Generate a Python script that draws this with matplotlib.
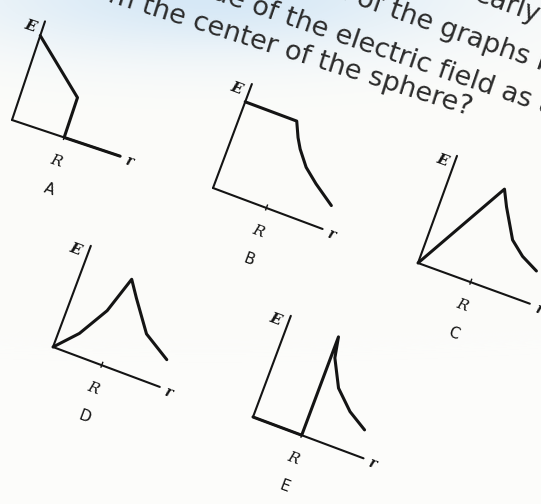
import numpy as np
import matplotlib
matplotlib.use("Agg")
import matplotlib.pyplot as plt
from matplotlib.transforms import Affine2D

W, H = 541, 504

# E(r) sketches, in graph units (r along the axis, E up from it)
names = ["A", "B", "C", "D", "E"]
r_A = [0, 55, 55, 114]
E_A = [89, 42, 0, 0]
r_B = [0, 55, 62, 68, 80, 95, 117]
E_B = [92, 92, 77, 67, 52, 40, 25]
r_C = [0, 56, 64, 81, 96, 114]
E_C = [0, 99, 83, 54, 42, 33]
r_D = [0, 20, 38, 50, 61, 83, 111]
E_D = [0, 22, 53, 91, 75, 45, 28]
r_E = [0, 52, 52, 56, 70, 89, 109]
E_E = [0, 0, 105, 84, 57, 39, 27]
curve_r = [r_A, r_B, r_C, r_D, r_E]
curve_E = [E_A, E_B, E_C, E_D, E_E]
R_mark = [55, 57, 56, 52, 52]
r_axis_len = [114, 117, 119, 114, 118]
E_axis_len = [104, 111, 114, 108, 108]

# page placement of each little graph: origin in pixels and tilt
origins = [(12, 120), (213, 188), (418, 263), (53, 347), (253, 417)]
tilts = [18.5, 20.5, 20.0, 20.5, 20.5]

# question text lines: (lead-in running off the top, rest, anchor x, anchor y, tilt)
text_lines = [
    ("increases lin", "early", 473, 0, 19.5),
    ("Which ", "of the graphs below best", 355, 4, 19.5),
    ("magnitude ", "of the electric field as a function", 250, 12, 19.0),
    ("fro", "m the center of the sphere?", 107, 1, 17.5),
]

fig = plt.figure(figsize=(W / 100, H / 100), dpi=100)
ax = fig.add_axes([0, 0, 1, 1])
ax.set_xlim(0, W)
ax.set_ylim(H, 0)
ax.axis("off")

# paper with a pale blue cast along the top edge
yy, xx = np.mgrid[0:H, 0:W]
tint = np.exp(-(((xx - 210) / 250.0) ** 2 + ((yy + 5) / 60.0) ** 2))
paper = np.array([252, 252, 250]) / 255.0
blue = np.array([214, 232, 246]) / 255.0
bg = paper[None, None, :] * (1 - tint[..., None]) + blue[None, None, :] * tint[..., None]
ax.imshow(bg, extent=(0, W, H, 0), zorder=0, aspect="auto")

ink = "#141414"
for lead, body, x, y, ang in text_lines:
    kw = dict(rotation=-ang, rotation_mode="anchor", va="baseline",
              fontsize=19.5, color="#2b2b2b", family="DejaVu Sans", zorder=3)
    ax.text(x, y, lead, ha="right", **kw)
    ax.text(x, y, body, ha="left", **kw)

for i, name in enumerate(names):
    ox, oy = origins[i]
    tilt = tilts[i]
    tr = Affine2D().scale(1, -1).rotate_deg(tilt).translate(ox, oy) + ax.transData
    # axes
    ax.plot([0, r_axis_len[i]], [0, 0], color=ink, lw=1.5, transform=tr,
            solid_capstyle="round", zorder=2)
    ax.plot([0, 0], [0, E_axis_len[i]], color=ink, lw=1.5, transform=tr,
            solid_capstyle="round", zorder=2)
    ax.plot([R_mark[i], R_mark[i]], [-2, 3], color=ink, lw=1.0, transform=tr, zorder=2)
    # field curve
    ax.plot(curve_r[i], curve_E[i], color=ink, lw=2.2, transform=tr,
            solid_joinstyle="round", solid_capstyle="round", zorder=3)
    # labels
    lab = dict(rotation=-tilt, rotation_mode="anchor", ha="center", va="center",
               color=ink, transform=tr, zorder=4)
    ax.text(-13, E_axis_len[i] - 9, "E", fontsize=11, family="DejaVu Serif",
            style="italic", weight="bold", **lab)
    ax.text(r_axis_len[i] + 10, -2, "r", fontsize=10, family="DejaVu Serif",
            style="italic", weight="bold", **lab)
    ax.text(R_mark[i], -25, "R", fontsize=11, family="DejaVu Serif",
            style="italic", **lab)
    ax.text(R_mark[i] + 2, -54, name, fontsize=11, family="DejaVu Sans", **lab)

fig.savefig("out.png", dpi=100)
